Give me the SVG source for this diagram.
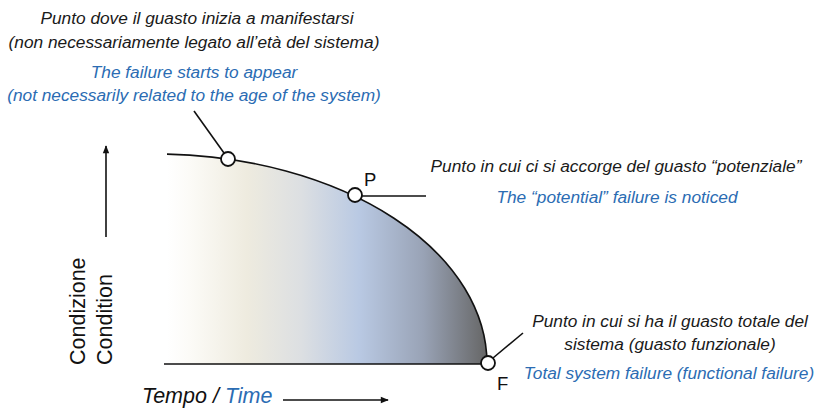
<svg xmlns="http://www.w3.org/2000/svg" width="816" height="408" viewBox="0 0 816 408">
<style>
.t{font-family:"Liberation Sans",Arial,sans-serif;font-style:italic;font-size:17.3px;fill:#1a1a1a}
.b{fill:#2b6cb3}
.lbl{font-family:"Liberation Sans",Arial,sans-serif;font-size:18.5px;fill:#111}
.ax{font-family:"Liberation Sans",Arial,sans-serif;font-size:21.5px;fill:#111}
.it{font-style:italic}
.ln{stroke:#111;stroke-width:1.6;fill:none}
.pt{fill:#fff;stroke:#111;stroke-width:1.8}
</style>
<defs>
<linearGradient id="g" x1="167" y1="0" x2="487" y2="0" gradientUnits="userSpaceOnUse">
<stop offset="0" stop-color="#ffffff"/>
<stop offset="0.07" stop-color="#fcfbf7"/>
<stop offset="0.25" stop-color="#eeebdf"/>
<stop offset="0.42" stop-color="#dcdfe2"/>
<stop offset="0.6" stop-color="#b9c9e3"/>
<stop offset="0.8" stop-color="#99a3b6"/>
<stop offset="1" stop-color="#666666"/>
</linearGradient>
<marker id="ah" viewBox="0 0 10 10" refX="9" refY="5" markerWidth="9" markerHeight="8" markerUnits="userSpaceOnUse" orient="auto">
<path d="M0,1 L10,5 L0,9 Z" fill="#111"/>
</marker>
</defs>
<g id="area">
<path d="M167,154.14 A332,210 0 0 1 487,364 L167,364 Z" fill="url(#g)"/>
</g>
<g id="connectors">
<path class="ln" d="M167,154.14 A332,210 0 0 1 487,364" stroke-width="2.4"/>
<line class="ln" x1="164" y1="364" x2="487" y2="364" stroke-width="2.4"/>
<line class="ln" x1="194" y1="111" x2="224" y2="153"/>
<line class="ln" x1="361" y1="196" x2="426" y2="196"/>
<line class="ln" x1="493" y1="358" x2="523" y2="333"/>
<line class="ln" x1="106" y1="237" x2="106" y2="146" marker-end="url(#ah)"/>
<line class="ln" x1="283" y1="400" x2="388" y2="400" marker-end="url(#ah)"/>
</g>
<g id="start">
<circle class="pt" cx="228" cy="159" r="7"/>
<text class="t" x="197" y="24" text-anchor="middle">Punto dove il guasto inizia a manifestarsi</text>
<text class="t" x="194" y="48" text-anchor="middle">(non necessariamente legato all’età del sistema)</text>
<text class="t b" x="194" y="78" text-anchor="middle">The failure starts to appear</text>
<text class="t b" x="194" y="101" text-anchor="middle">(not necessarily related to the age of the system)</text>
</g>
<g id="P">
<circle class="pt" cx="355" cy="195" r="7"/>
<text class="lbl" x="364" y="186">P</text>
<text class="t" x="616" y="172" text-anchor="middle">Punto in cui ci si accorge del guasto “potenziale”</text>
<text class="t b" x="617" y="203" text-anchor="middle">The “potential” failure is noticed</text>
</g>
<g id="F">
<circle class="pt" cx="488" cy="363" r="7"/>
<text class="lbl" x="497" y="390">F</text>
<text class="t" x="670" y="327" text-anchor="middle">Punto in cui si ha il guasto totale del</text>
<text class="t" x="670" y="350" text-anchor="middle">sistema (guasto funzionale)</text>
<text class="t b" x="669" y="379" text-anchor="middle">Total system failure (functional failure)</text>
</g>
<g id="axes">
<text class="ax" transform="translate(85,365) rotate(-90)">Condizione</text>
<text class="ax b" transform="translate(112,365) rotate(-90)">Condition</text>
<text class="ax it" x="142" y="403">Tempo / <tspan class="b">Time</tspan></text>
</g>
</svg>
